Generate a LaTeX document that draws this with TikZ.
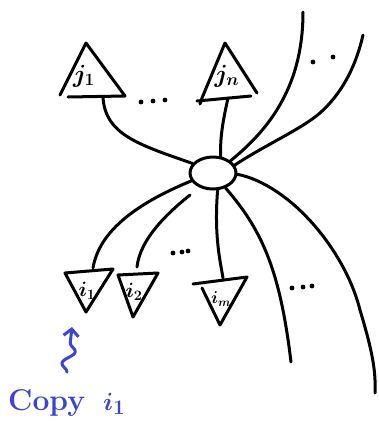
\documentclass[tikz,border=0pt]{standalone}
\usepackage{tikz}
\usetikzlibrary{arrows.meta,shapes.geometric,decorations.pathmorphing}
\definecolor{ink}{HTML}{000000}
\definecolor{penblue}{HTML}{3B45D0}
\tikzset{
  pen/.style={draw=ink,line width=3pt,line cap=round,line join=round},
  hubnode/.style={pen,ellipse,minimum width=46pt,minimum height=32pt,inner sep=0pt},
  leaflabel/.style={inner sep=0pt,font=\fontsize{27}{27}\selectfont\boldmath},
  smalllabel/.style={inner sep=0pt,font=\fontsize{22}{22}\selectfont\boldmath},
  tinylabel/.style={inner sep=0pt,font=\fontsize{17}{17}\selectfont\boldmath},
  bluepen/.style={draw=penblue,line width=3pt,line cap=round,line join=round},
  notetext/.style={text=penblue,inner sep=0pt,font=\fontsize{30}{30}\selectfont\bfseries\boldmath}
}

\begin{document}
\begin{tikzpicture}[x=1pt,y=-1pt]
  \useasboundingbox (0,0) rectangle (379,432);
  \node[hubnode] (hub) at (213,173) {};

  \draw[pen] (60,95) -- (86,43) -- (125,96) -- (68,97);
  \node[leaflabel] (j1) at (84,76) {$j_1$};
  \draw[pen] (200,104) -- (202,98) -- (225,43) -- (257,93) (197,101) -- (251,96);
  \node[leaflabel] (jn) at (227,76) {$j_n$};
  \draw[pen] (65,273) -- (113,269) -- (86,312) -- cycle;
  \node[smalllabel] (i1) at (87,291) {$i_1$};
  \draw[pen] (118,275) -- (158,273) -- (133,317) -- cycle;
  \node[smalllabel] (i2) at (134,292) {$i_2$};
  \draw[pen] (193,284) -- (247,277) -- (220,325) -- (202,288);
  \node[tinylabel] (im) at (221,299) {$i_m$};

  \coordinate (j1root) at (103,97);
  \coordinate (jnroot) at (228,98);
  \coordinate (i1root) at (93,268);
  \coordinate (i2root) at (137,267);
  \coordinate (imroot) at (223,278);
  \coordinate (i2tip) at (190,195);
  \coordinate (upA) at (303,12);
  \coordinate (upB) at (363,35);
  \coordinate (downA) at (375,393);
  \coordinate (downB) at (291,362);

  \draw[pen] (j1root) .. controls (105,135) and (140,145) .. (hub.155);
  \draw[pen] (jnroot) .. controls (222,125) and (220,140) .. (hub.65);
  \draw[pen] (hub.35) .. controls (275,125) and (303,80) .. (upA);
  \draw[pen] (hub.20) .. controls (265,145) and (300,130) .. (320,113)
    .. controls (340,95) and (355,70) .. (upB);
  \draw[pen] (hub.-3) .. controls (290,185) and (345,250) .. (360,310)
    .. controls (372,350) and (376,370) .. (downA);
  \draw[pen] (hub.-50) .. controls (262,230) and (280,270) .. (downB);
  \draw[pen] (hub.-75) .. controls (214,235) and (220,260) .. (imroot);
  \draw[pen] (hub.200) .. controls (150,198) and (100,225) .. (i1root);
  \draw[pen] (i2tip) .. controls (165,215) and (140,240) .. (i2root);

  \foreach \x/\y in {141/102,153/101,165/100,313/62,333/57,
                     292/288,303/287,312/286,173/253,182/252,188/251}
    \fill[ink] (\x,\y) circle (2.4pt);

  \node[notetext,anchor=base west] (copy) at (8,410) {Copy\hspace{18pt}$i_1$};
  \coordinate (copytail) at (67,372);
  \coordinate (copyhead) at (72,327);
  \draw[bluepen,-{Straight Barb[length=7pt,width=15pt]},decorate,
        decoration={snake,amplitude=6pt,segment length=26pt,post length=6pt}]
    (copytail) -- (copyhead);
\end{tikzpicture}
\end{document}
